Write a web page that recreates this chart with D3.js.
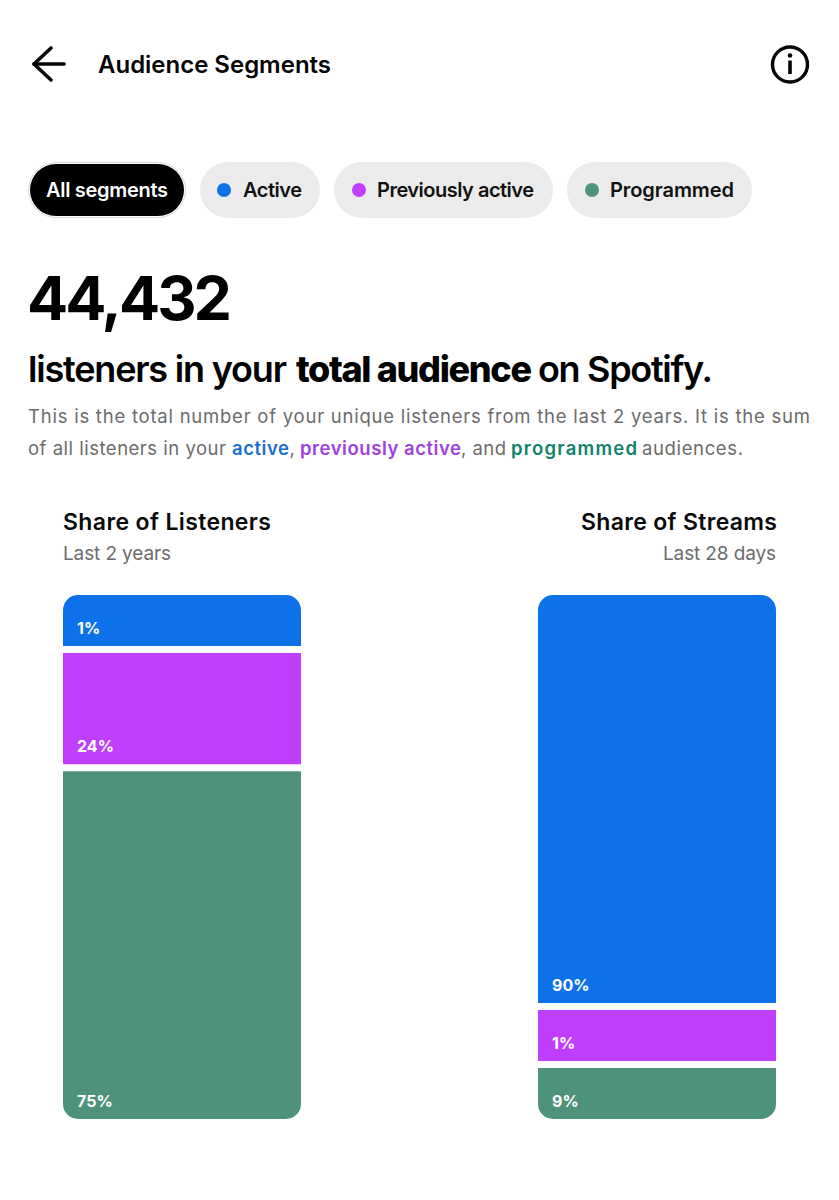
<!DOCTYPE html>
<html><head><meta charset="utf-8">
<script src="https://cdn.jsdelivr.net/npm/d3@7"></script>
<style>html,body{margin:0;padding:0;background:#fff}svg{display:block}text{font-family:Inter,"Noto Sans",sans-serif;font-kerning:normal}</style>
</head><body><svg id="c" width="839" height="1200"></svg>
<script>
const segments = ["Active", "Previously active", "Programmed"];
const listenersShare = [1, 24, 75];
const streamsShare = [90, 1, 9];
const filterLabels = ["All segments", "Active", "Previously active", "Programmed"];
const totalListeners = 44432;
const colors = ["#0d72ea", "#c03fff", "#4e927c"];
const textColors = ["#1b6fd1", "#a040e0", "#12826a"];

const svg = d3.select("#c");
const INK = "#050505", GREY = "#6b6b6b";

function fit(sel, w){ // pin a string to its measured width in the reference
  return sel.attr("textLength", w).attr("lengthAdjust", "spacing");
}
function label(x, y, str, size, weight, fill, w, anchor){
  const t = svg.append("text").attr("x", x).attr("y", y).text(str)
    .attr("font-size", size).attr("font-weight", weight).attr("fill", fill)
    .attr("text-anchor", anchor || "start");
  if (w) fit(t, w);
  return t;
}

// header
svg.append("path").attr("d", d3.line()([[51,48],[34,64],[51,80]])).attr("fill","none").attr("stroke",INK).attr("stroke-width",3.6).attr("stroke-linecap","round").attr("stroke-linejoin","round");
svg.append("path").attr("d", d3.line()([[34,64],[64,64]])).attr("stroke",INK).attr("stroke-width",3.6).attr("stroke-linecap","round");
label(98, 73, "Audience Segments", 24, 600, INK, 233);
svg.append("circle").attr("cx",790).attr("cy",64.5).attr("r",17.5).attr("fill","none").attr("stroke",INK).attr("stroke-width",3.4);
svg.append("circle").attr("cx",790).attr("cy",55.5).attr("r",2.3).attr("fill",INK);
svg.append("path").attr("d", d3.line()([[790,60.5],[790,74]])).attr("stroke",INK).attr("stroke-width",3.6);

// filter pills
const pills = [
  {x:200,w:120,dot:224,tx:243,tw:59},
  {x:334,w:219,dot:359,tx:377,tw:157},
  {x:567,w:185,dot:592,tx:610,tw:124}
];
svg.append("rect").attr("x",28.5).attr("y",162.5).attr("width",157).attr("height",55).attr("rx",27.5).attr("fill","#fff").attr("stroke","#d8d8d8");
svg.append("rect").attr("x",30).attr("y",164).attr("width",154).attr("height",52).attr("rx",26).attr("fill","#000");
label(46, 197, filterLabels[0], 20, 600, "#fff", 122);
pills.forEach((p,i)=>{
  svg.append("rect").attr("x",p.x).attr("y",162).attr("width",p.w).attr("height",56).attr("rx",28).attr("fill","#ebebeb");
  svg.append("circle").attr("cx",p.dot).attr("cy",190).attr("r",7).attr("fill",colors[i]);
  label(p.tx, 197, filterLabels[i+1], 20, 600, "#111", p.tw);
});

// headline
label(27, 320, d3.format(",")(totalListeners), 61, 700, "#000", 205);
label(28, 382, "listeners in your", 36, 600, "#000", 259);
label(296, 382, "total audience", 36, 800, "#000", 236);
label(538, 382, "on Spotify.", 36, 600, "#000", 175);

// body copy
fit(label(28, 423, "This is the total number of your unique listeners from the last 2 years. It is the sum", 18.5, 400, GREY), 782);
label(28, 455, "of all listeners in your", 18.5, 400, GREY, 198);
label(232, 455, "active", 18.5, 600, textColors[0], 57);
label(289.5, 455, ",", 18.5, 400, GREY);
label(300, 455, "previously active", 18.5, 600, textColors[1], 161);
label(461, 455, ", and", 18.5, 400, GREY, 45);
label(511, 455, "programmed", 18.5, 600, textColors[2], 126);
label(642, 455, "audiences.", 18.5, 400, GREY, 101);

// stacked columns: shares below the minimum height are held at that height
const barTop = 595, barBottom = 1119, gap = 7, minH = 51;
function segmentHeights(values){
  const free = (barBottom - barTop) - gap * (values.length - 1);
  let clamped = values.map(()=>false), scale;
  for (let pass = 0; pass < values.length; pass++){
    const n = d3.sum(clamped, c=>c?1:0);
    const open = d3.sum(values, (v,i)=>clamped[i]?0:v);
    scale = d3.scaleLinear().domain([0, open]).range([0, free - n*minH]);
    values.forEach((v,i)=>{ if(!clamped[i] && scale(v) < minH) clamped[i] = true; });
  }
  return values.map((v,i)=>clamped[i]?minH:scale(v));
}
function column(x, values, id){
  const width = 238, hs = segmentHeights(values);
  svg.append("clipPath").attr("id",id).append("rect").attr("x",x).attr("y",barTop).attr("width",width).attr("height",barBottom-barTop).attr("rx",15);
  let y = barTop;
  const g = svg.append("g");
  const rows = values.map((v,i)=>{ const r={v,i,y,h:hs[i]}; y += hs[i]+gap; return r; });
  g.append("g").attr("clip-path",`url(#${id})`).selectAll("rect").data(rows).join("rect")
    .attr("x",x).attr("width",width).attr("y",d=>d.y).attr("height",d=>d.h).attr("fill",d=>colors[d.i]);
  g.selectAll("text.pct").data(rows).join("text").attr("class","pct")
    .attr("x",x+14).attr("y",d=>d.y+d.h-12).attr("font-size",16).attr("font-weight",700).attr("fill","#fff")
    .text(d=>d.v+"%");
}
label(63, 530, "Share of Listeners", 23, 600, "#0a0a0a", 208);
label(63, 560, "Last 2 years", 19, 400, GREY, 108);
label(581, 530, "Share of Streams", 23, 600, "#0a0a0a", 196);
label(663, 560, "Last 28 days", 19, 400, GREY, 113);
column(63, listenersShare, "clipL");
column(538, streamsShare, "clipR");
</script></body></html>
